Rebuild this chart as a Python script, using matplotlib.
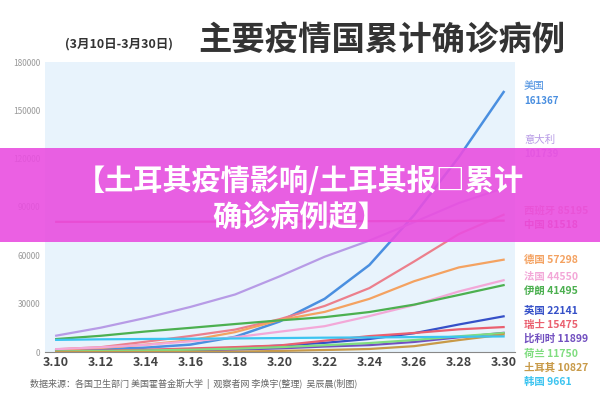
import matplotlib
matplotlib.use('Agg')
import matplotlib.pyplot as plt
from matplotlib.patches import Rectangle

plt.rcParams['font.family'] = ['Noto Sans CJK SC', 'DejaVu Sans']

dates = [3.10, 3.12, 3.14, 3.16, 3.18, 3.20, 3.22, 3.24, 3.26, 3.28, 3.30]
xlabels = ['3.10', '3.12', '3.14', '3.16', '3.18', '3.20', '3.22', '3.24', '3.26', '3.28', '3.30']

countries = ['美国', '意大利', '西班牙', '中国', '德国', '法国', '伊朗',
             '英国', '瑞士', '比利时', '荷兰', '土耳其', '韩国']
totals = [161367, 101739, 85195, 81518, 57298, 44550, 41495,
          22141, 15475, 11899, 11750, 10827, 9661]
series = {
    '美国': [1000, 1600, 2700, 4600, 9400, 19000, 33000, 54000, 85000, 121000, 161367],
    '意大利': [10149, 15113, 21157, 27980, 35713, 47021, 59138, 69176, 80589, 92472, 101739],
    '西班牙': [1695, 3000, 6391, 9942, 13910, 20410, 28572, 39673, 56188, 73235, 85195],
    '中国': [80778, 80800, 80840, 80880, 80930, 81000, 81100, 81200, 81300, 81400, 81518],
    '德国': [1565, 2500, 4585, 7272, 12327, 19848, 24873, 32991, 43938, 52500, 57298],
    '法国': [1784, 2900, 4469, 6633, 9134, 12612, 16018, 22302, 29155, 37575, 44550],
    '伊朗': [8042, 10075, 12729, 14991, 17361, 19644, 21638, 24811, 29406, 35408, 41495],
    '英国': [373, 600, 1140, 1543, 2626, 3983, 5683, 8077, 11658, 17089, 22141],
    '瑞士': [491, 800, 1359, 2200, 3028, 4075, 7014, 9877, 11811, 14076, 15475],
    '比利时': [267, 400, 689, 1058, 1486, 2257, 3401, 4269, 6235, 9134, 11899],
    '荷兰': [382, 600, 959, 1413, 2051, 2994, 4204, 5560, 7431, 9762, 11750],
    '土耳其': [0, 1, 5, 47, 191, 670, 1236, 1872, 3629, 7402, 10827],
    '韩国': [7513, 7869, 8086, 8236, 8413, 8652, 8897, 9037, 9241, 9478, 9661],
}
colors = ['#4a8fe0', '#b79be6', '#ec7f8c', '#e8406a', '#f4a261', '#f3a8d8', '#4cb050',
          '#3550c8', '#ea6070', '#7250c0', '#80dd80', '#c89a48', '#3cc4f0']
# label y positions (pixels from top) to avoid overlaps
label_py = [[86, 101], [140, 154], [211, 0], [225, 0], [260, 0], [277, 0], [291, 0],
            [311, 0], [325, 0], [339, 0], [354, 0], [368, 0], [382, 0]]

fig = plt.figure(figsize=(6, 4), dpi=100)
fig.patch.set_facecolor('white')
ax = fig.add_axes([0.075, 0.12, 0.783, 0.725])
ax.set_facecolor('#e8f3fc')
for c, col in zip(countries, colors):
    lw = 1.8 if c == '美国' else 1.6
    ax.plot(dates, series[c], color=col, lw=lw)
ax.set_xlim(3.095, 3.305)
ax.set_ylim(0, 180000)
ax.set_yticks(range(0, 180001, 30000))
ax.tick_params(axis='y', labelsize=6, colors='#999999', length=0)
ax.set_xticks(dates)
ax.set_xticklabels(xlabels, fontsize=9, fontweight='bold', color='#444444')
ax.tick_params(axis='x', length=0, pad=3)
for s in ['top', 'right', 'left']:
    ax.spines[s].set_visible(False)
ax.spines['bottom'].set_color('#888888')

# right-side labels
for i, (c, t, col) in enumerate(zip(countries, totals, colors)):
    py = label_py[i]
    if py[1]:
        fig.text(524 / 600, 1 - py[0] / 400, c, fontsize=7.5, color=col, va='center')
        fig.text(524 / 600, 1 - py[1] / 400, str(t), fontsize=7, color=col,
                 va='center', fontweight='bold')
    else:
        fig.text(524 / 600, 1 - py[0] / 400, c + ' ' + str(t), fontsize=7.5,
                 color=col, va='center', fontweight='bold')

# title
fig.text(65 / 600, 1 - 44 / 400, '(3月10日-3月30日)', fontsize=9, fontweight='bold',
         color='#333333', va='center')
fig.text(198 / 600, 1 - 40 / 400, '主要疫情国累计确诊病例', fontsize=24,
         fontweight='bold', color='#333333', va='center')
fig.text(30 / 600, 1 - 384 / 400, '数据来源：各国卫生部门 美国霍普金斯大学  |  观察者网 李焕宇(整理)  吴辰晨(制图)',
         fontsize=6.5, color='#666666', va='center')

# overlay banner
fig.patches.append(Rectangle((0, 1 - 242 / 400), 1, 94 / 400, transform=fig.transFigure,
                             facecolor='#e94fe0', alpha=0.9, zorder=5))
fig.text(0.5, 1 - 181 / 400, '【土耳其疫情影响/土耳其报□累计', fontsize=21, fontweight='bold',
         color='white', ha='center', va='center', zorder=6)
fig.text(0.5, 1 - 217 / 400, '确诊病例超】', fontsize=21, fontweight='bold',
         color='white', ha='center', va='center', zorder=6)

fig.savefig('out.png', dpi=100)
